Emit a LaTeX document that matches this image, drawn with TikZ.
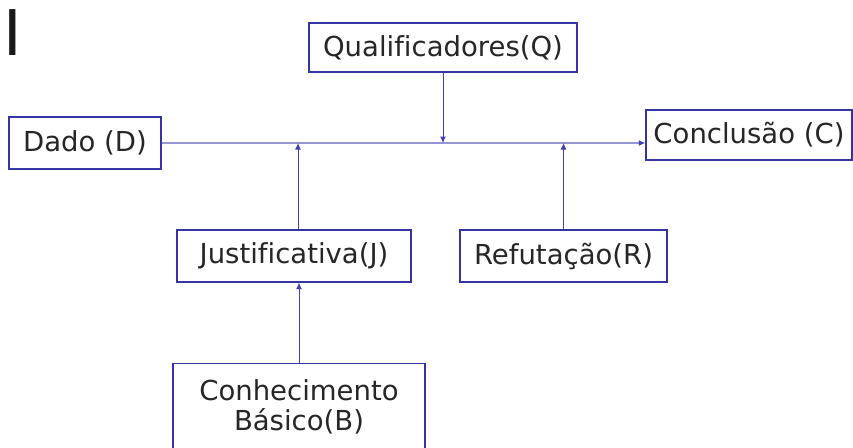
\documentclass[tikz,border=0pt]{standalone}
\usepackage{fontspec}
\setmainfont[Ligatures={NoCommon}]{DejaVu Sans}
\usetikzlibrary{arrows.meta}
\definecolor{boxblue}{RGB}{52,52,165}
\definecolor{linkblue}{RGB}{64,64,180}
\definecolor{mainline}{RGB}{150,150,215}
\begin{document}
\begin{tikzpicture}[x=1pt,y=-1pt,
  every node/.style={font=\fontsize{27.5}{30}\selectfont, text=black!85},
  box/.style={draw=boxblue, line width=1.3pt, inner sep=0pt, fill=white},
  link/.style={draw=linkblue, line width=1pt, -{Latex[length=6.5pt,width=6pt]}},
  spine/.style={draw=mainline, line width=1.8pt, -{Latex[length=6.5pt,width=6pt,color=linkblue]}}]
  \clip (0,0) rectangle (853,447);
  % heading glyph at the top left corner
  \node[anchor=base west, inner sep=0pt, font=\fontsize{63}{63}\selectfont, text=black!90] (title) at (2.8,55) {I};
  % boxes
  \node[box, minimum width=152pt, minimum height=52pt] (D) at (85,143) {Dado (D)};
  \node[box, minimum width=268pt, minimum height=49pt] (Q) at (443,47.5) {Qualificadores(Q)};
  \node[box, minimum width=206pt, minimum height=50pt] (C) at (749,135) {Conclusão (C)};
  \node[box, minimum width=234pt, minimum height=52pt] (J) at (294,256) {Justificativa(J)};
  \node[box, minimum width=207pt, minimum height=52pt] (R) at (563.5,256) {Refutação(R)};
  \node[box, anchor=north, minimum width=252pt, inner ysep=16pt, align=center] (B) at (299,363) {Conhecimento\\Básico(B)};
  % connectors
  \draw[spine] (D.east) -- (D.east -| C.west);
  \draw[link] (Q.south) -- (Q.south |- D.east);
  \draw[link] ([xshift=4pt]J.north) -- ([xshift=4pt]J.north |- D.east);
  \draw[link] (R.north) -- (R.north |- D.east);
  \draw[link] (B.north) -- (B.north |- J.south);
\end{tikzpicture}
\end{document}
